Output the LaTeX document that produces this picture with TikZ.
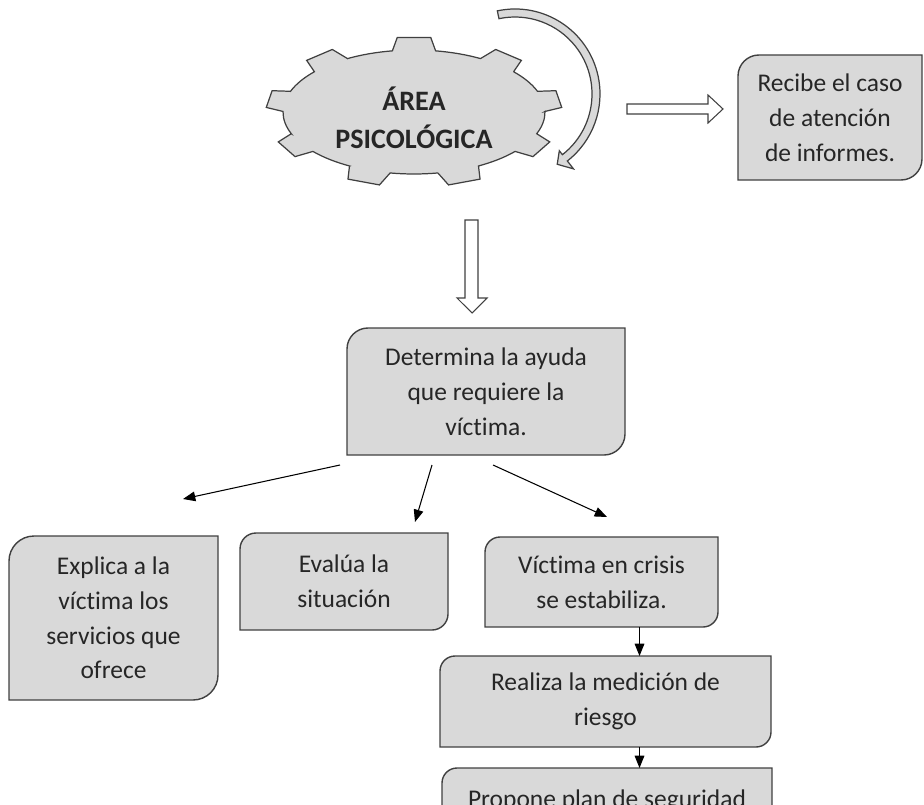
\documentclass[tikz,border=0pt]{standalone}
\usepackage{fontspec}
\setmainfont{Carlito}[Ligatures={CommonOff,ContextualOff}, Contextuals=AlternateOff]
\usepackage{xcolor}
\usetikzlibrary{arrows.meta,backgrounds}
\definecolor{boxgray}{HTML}{D9D9D9}
\definecolor{edgegray}{HTML}{404040}
\definecolor{txtgray}{HTML}{262626}

\begin{document}
\begin{tikzpicture}[>={Triangle[length=7pt,width=5.5pt]}, every node/.style={font=\fontsize{14.5}{19.8}\selectfont, text=txtgray}]
  \tikzstyle{box}=[rectangle, inner sep=0pt, outer sep=0pt, align=center]
  \tikzstyle{boxline}=[fill=boxgray, draw=edgegray, line width=0.8pt]
  \tikzstyle{gearline}=[fill=boxgray, draw=edgegray, line width=0.7pt]
  \tikzstyle{hollow}=[fill=white, draw=edgegray, line width=0.6pt]
  \tikzstyle{link}=[->, line width=0.6pt, black]
  \useasboundingbox (0,0) rectangle (18.48,-16.08);
  \clip (0,0) rectangle (18.48,-16.08);
  % gear with its title
  \node[align=center, font=\fontsize{16}{21.6}\selectfont\bfseries] (area) at (8.28,-2.36) {ÁREA\\PSICOLÓGICA};
  \begin{scope}[on background layer, shift={(8.28,-2.24)}]
    \filldraw[gearline] (80.5:2.62 and 1.24)
      \foreach \a in {90,130,...,410}{
        -- ({\a-9.5}:2.62 and 1.24) -- ({\a-6.5}:2.96 and 1.5)
        -- ({\a+6.5}:2.96 and 1.5) -- ({\a+9.5}:2.62 and 1.24)
        arc[start angle=\a+9.5, end angle=\a+30.5, x radius=2.62cm, y radius=1.24cm]
      } -- cycle;
  \end{scope}
  % curved arrow
  \begin{scope}[shift={(10.3,-1.88)}]
    \filldraw[gearline] (102:1.7) arc[start angle=102, end angle=-52, radius=1.7cm]
      -- (-52:1.9) -- (-59:1.64) -- (-52:1.44) -- (-52:1.54)
      arc[start angle=-52, end angle=102, radius=1.54cm] -- cycle;
  \end{scope}
  % boxes
  \node[box, minimum width=3.68cm, minimum height=2.5cm] (recibe) at (16.6,-2.35) {Recibe el caso\\de atención\\de informes.};
  \node[box, minimum width=5.56cm, minimum height=2.54cm] (determina) at (9.72,-7.83) {Determina la ayuda\\que requiere la\\víctima.};
  \node[box, minimum width=4.18cm, minimum height=3.28cm] (explica) at (2.27,-12.36) {Explica a la\\víctima los\\servicios que\\ofrece};
  \node[box, minimum width=4.16cm, minimum height=1.94cm] (evalua) at (6.88,-11.63) {Evalúa la\\situación};
  \node[box, minimum width=4.66cm, minimum height=1.8cm] (victima) at (12.03,-11.64) {Víctima en crisis\\se estabiliza.};
  \node[box, minimum width=6.62cm, minimum height=1.82cm] (realiza) at (12.11,-14.03) {Realiza la medición de\\riesgo};
  \node[box, minimum width=6.6cm, minimum height=1.32cm] (propone) at (12.14,-16.02) {Propone plan de seguridad};
  \begin{scope}[on background layer]
    \foreach \n/\r in {recibe/0.42cm, determina/0.42cm, explica/0.5cm, evalua/0.32cm, victima/0.3cm, realiza/0.3cm, propone/0.3cm}{
      \filldraw[boxline] ([yshift=-\r]\n.north west) arc[start angle=180, end angle=90, radius=\r]
        -- (\n.north east) -- ([yshift=\r]\n.south east)
        arc[start angle=0, end angle=-90, radius=\r] -- (\n.south west) -- cycle;
    }
  \end{scope}
  % hollow arrows
  \filldraw[hollow] (12.54,-2.08) -- (14.16,-2.08) -- (14.16,-1.9) -- (14.46,-2.18) -- (14.16,-2.46) -- (14.16,-2.28) -- (12.54,-2.28) -- cycle;
  \filldraw[hollow] (9.3,-4.4) -- (9.56,-4.4) -- (9.56,-5.96) -- (9.74,-5.96) -- (9.44,-6.26) -- (9.14,-5.96) -- (9.3,-5.96) -- cycle;
  % thin arrows
  \coordinate (s1) at (6.8,-9.3);   \coordinate (e1) at (3.66,-9.98);
  \coordinate (s2) at (8.64,-9.3);  \coordinate (e2) at (8.3,-10.44);
  \coordinate (s3) at (9.86,-9.3);  \coordinate (e3) at (12.14,-10.34);
  \coordinate (col) at (12.79,0);
  \foreach \i in {1,2,3}{
    \draw[link] (s\i) -- (e\i);
  }
  \draw[link] (victima.south -| col) -- (realiza.north -| col);
  \draw[link] (realiza.south -| col) -- (propone.north -| col);
\end{tikzpicture}
\end{document}
